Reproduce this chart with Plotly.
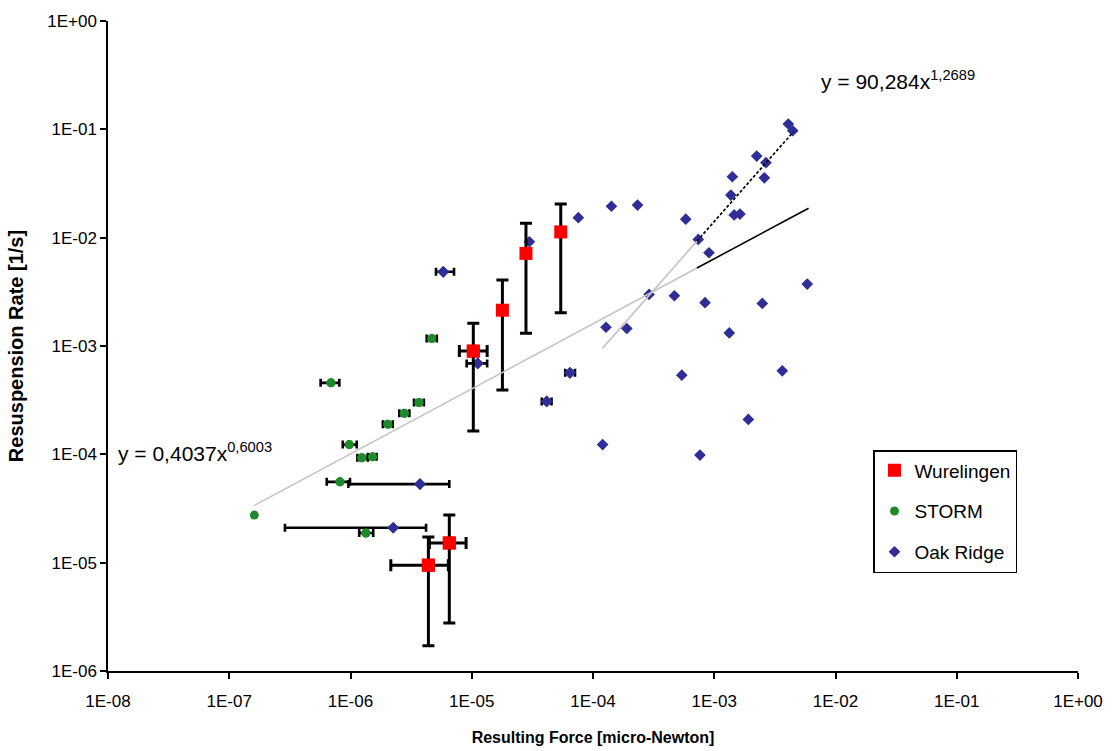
import numpy as np
import plotly.graph_objects as go

# ---------------- data ----------------
# Wurelingen (red squares) – force [micro-N], rate [1/s], with y-error ranges
wur_force = [1.03e-5, 1.79e-5, 2.80e-5, 5.42e-5, 4.39e-6, 6.53e-6]
wur_rate = [8.97e-4, 2.14e-3, 7.16e-3, 1.13e-2, 9.48e-6, 1.52e-5]
wur_rate_lo = [1.64e-4, 3.92e-4, 1.31e-3, 2.03e-3, 1.71e-6, 2.78e-6]
wur_rate_hi = [1.62e-3, 4.06e-3, 1.355e-2, 2.04e-2, 1.73e-5, 2.75e-5]
# Wurelingen points that also carry x-error ranges
wur_xe_force = [1.03e-5, 4.39e-6, 6.53e-6]
wur_xe_rate = [8.97e-4, 9.48e-6, 1.52e-5]
wur_xe_lo = [7.9e-6, 2.15e-6, 4.47e-6]
wur_xe_hi = [1.34e-5, 6.41e-6, 8.98e-6]

# STORM (green circles)
storm_force = [1.61e-7, 6.90e-7, 4.68e-6, 3.67e-6, 2.78e-6, 2.03e-6, 9.77e-7,
               1.24e-6, 1.52e-6, 8.18e-7, 1.34e-6]
storm_rate = [2.75e-5, 4.57e-4, 1.17e-3, 3.01e-4, 2.39e-4, 1.90e-4, 1.23e-4,
              9.31e-5, 9.48e-5, 5.57e-5, 1.88e-5]
storm_force_lo = [None, 5.67e-7, 4.25e-6, 3.34e-6, 2.53e-6, 1.85e-6, 8.63e-7,
                  1.14e-6, 1.39e-6, 6.37e-7, 1.18e-6]
storm_force_hi = [None, 8.09e-7, 5.15e-6, 4.03e-6, 3.06e-6, 2.23e-6, 1.125e-6,
                  1.39e-6, 1.64e-6, 9.9e-7, 1.54e-6]

# Oak Ridge (blue diamonds)
oak_force = [3.74e-6, 2.25e-6, 5.82e-6, 1.12e-5, 2.99e-5, 7.57e-5, 1.42e-4, 2.33e-4,
             4.15e-5, 6.46e-5, 1.20e-4, 1.28e-4, 1.90e-4, 2.90e-4, 4.69e-4, 5.82e-4,
             7.38e-4, 9.05e-4, 5.40e-4, 7.62e-4, 8.39e-4, 1.33e-3, 1.37e-3, 1.46e-3,
             1.63e-3, 1.41e-3, 2.24e-3, 2.67e-3, 2.59e-3, 4.08e-3, 4.44e-3, 2.49e-3,
             3.64e-3, 1.91e-3, 5.85e-3]
oak_rate = [5.31e-5, 2.10e-5, 4.84e-3, 6.91e-4, 9.17e-3, 1.53e-2, 1.95e-2, 2.00e-2,
            3.08e-4, 5.66e-4, 1.23e-4, 1.49e-3, 1.45e-3, 2.99e-3, 2.91e-3, 1.48e-2,
            9.64e-3, 7.26e-3, 5.38e-4, 9.84e-5, 2.51e-3, 1.32e-3, 2.47e-2, 1.62e-2,
            1.65e-2, 3.65e-2, 5.67e-2, 4.92e-2, 3.57e-2, 0.112, 0.097, 2.47e-3,
            5.90e-4, 2.10e-4, 3.73e-3]
oak_force_lo = [9.6e-7, 2.88e-7, 5.07e-6, 9.08e-6] + [None] * 4 + [3.78e-5, 5.9e-5] + [None] * 25
oak_force_hi = [6.53e-6, 4.20e-6, 7.14e-6, 1.34e-5] + [None] * 4 + [4.55e-5, 7.1e-5] + [None] * 25

# Power-law trend lines: y = a * x^b, drawn over [x_start, x_switch, x_end]
fit1_a, fit1_b = 0.4037, 0.6003
fit1_x = [1.6e-7, 7.2e-4, 6.0e-3]
fit2_a, fit2_b = 90.284, 1.2689
fit2_x = [1.2e-4, 7.2e-4, 4.5e-3]

x_tick_vals = [1e-8, 1e-7, 1e-6, 1e-5, 1e-4, 1e-3, 1e-2, 1e-1, 1e0]
x_tick_text = ["1E-08", "1E-07", "1E-06", "1E-05", "1E-04", "1E-03", "1E-02", "1E-01", "1E+00"]
y_tick_vals = [1e-6, 1e-5, 1e-4, 1e-3, 1e-2, 1e-1, 1e0]
y_tick_text = ["1E-06", "1E-05", "1E-04", "1E-03", "1E-02", "1E-01", "1E+00"]

# ---------------- styles ----------------
FONT = "Liberation Sans, Arial, sans-serif"
RED = "#ff0000"
GREEN = "#1f8a2c"
BLUE = "#2e2e96"
ERR_W = 2.6


def subset_with_err(xs, ys, lo, hi):
    sx, sy, plus, minus = [], [], [], []
    for x, y, l, h in zip(xs, ys, lo, hi):
        if l is None:
            continue
        sx.append(x)
        sy.append(y)
        plus.append(h - x)
        minus.append(x - l)
    return sx, sy, plus, minus


fig = go.Figure()

# Oak Ridge
ox, oy, op, om = subset_with_err(oak_force, oak_rate, oak_force_lo, oak_force_hi)
fig.add_trace(go.Scatter(x=ox, y=oy, mode="markers", showlegend=False, legendgroup="o",
                         marker=dict(symbol="diamond", size=9, color=BLUE),
                         error_x=dict(type="data", symmetric=False, array=op, arrayminus=om,
                                      color="black", thickness=ERR_W, width=4)))
fig.add_trace(go.Scatter(x=oak_force, y=oak_rate, mode="markers", name="Oak Ridge",
                         legendgroup="o", legendrank=3,
                         marker=dict(symbol="diamond", size=9, color=BLUE)))

# STORM
sx, sy, sp, sm = subset_with_err(storm_force, storm_rate, storm_force_lo, storm_force_hi)
fig.add_trace(go.Scatter(x=sx, y=sy, mode="markers", showlegend=False, legendgroup="s",
                         marker=dict(symbol="circle", size=9, color=GREEN),
                         error_x=dict(type="data", symmetric=False, array=sp, arrayminus=sm,
                                      color="black", thickness=ERR_W, width=4)))
fig.add_trace(go.Scatter(x=storm_force, y=storm_rate, mode="markers", name="STORM",
                         legendgroup="s", legendrank=2,
                         marker=dict(symbol="circle", size=9, color=GREEN)))

# Wurelingen
wxp = [h - x for x, h in zip(wur_xe_force, wur_xe_hi)]
wxm = [x - l for x, l in zip(wur_xe_force, wur_xe_lo)]
fig.add_trace(go.Scatter(x=wur_xe_force, y=wur_xe_rate, mode="markers", showlegend=False,
                         legendgroup="w",
                         marker=dict(symbol="square", size=13, color=RED),
                         error_x=dict(type="data", symmetric=False, array=wxp, arrayminus=wxm,
                                      color="black", thickness=3, width=6)))
wyp = [h - y for y, h in zip(wur_rate, wur_rate_hi)]
wym = [y - l for y, l in zip(wur_rate, wur_rate_lo)]
fig.add_trace(go.Scatter(x=wur_force, y=wur_rate, mode="markers", name="Wurelingen",
                         legendgroup="w", legendrank=1,
                         marker=dict(symbol="square", size=13, color=RED),
                         error_y=dict(type="data", symmetric=False, array=wyp, arrayminus=wym,
                                      color="black", thickness=3, width=6)))


def power(a, b, xs):
    xs = np.array(xs, dtype=float)
    return a * xs ** b


# trend lines (grey part, then black part)
f1 = power(fit1_a, fit1_b, fit1_x)
fig.add_trace(go.Scatter(x=fit1_x[:2], y=f1[:2], mode="lines", showlegend=False,
                         line=dict(color="#c4c4c4", width=1.6), hoverinfo="skip"))
fig.add_trace(go.Scatter(x=fit1_x[1:], y=f1[1:], mode="lines", showlegend=False,
                         line=dict(color="black", width=1.6), hoverinfo="skip"))
f2 = power(fit2_a, fit2_b, fit2_x)
fig.add_trace(go.Scatter(x=fit2_x[:2], y=f2[:2], mode="lines", showlegend=False,
                         line=dict(color="#c4c4c4", width=1.6), hoverinfo="skip"))
fig.add_trace(go.Scatter(x=fit2_x[1:], y=f2[1:], mode="lines", showlegend=False,
                         line=dict(color="black", width=1.6, dash="3px,2px"), hoverinfo="skip"))

axis_common = dict(showgrid=False, zeroline=False, showline=True, linecolor="black",
                   linewidth=1.5, ticks="outside", ticklen=6, tickwidth=1.5,
                   tickcolor="black", automargin=False,
                   tickfont=dict(family=FONT, size=17, color="black"))

fig.update_layout(
    width=1112, height=751,
    paper_bgcolor="white", plot_bgcolor="white",
    margin=dict(l=108, r=34, t=21, b=80),
    font=dict(family=FONT, color="black"),
    xaxis=dict(type="log", range=[-8, 0], tickmode="array", tickvals=x_tick_vals,
               ticktext=x_tick_text, ticklabelstandoff=8,
               title=dict(text="<b>Resulting Force [micro-Newton]</b>",
                          font=dict(family=FONT, size=16), standoff=22),
               **axis_common),
    yaxis=dict(type="log", range=[-6, 0], tickmode="array", tickvals=y_tick_vals,
               ticktext=y_tick_text,
               title=dict(text="<b>Resuspension Rate [1/s]</b>",
                          font=dict(family=FONT, size=20), standoff=18),
               **axis_common),
    xaxis2=dict(type="log", range=[-8, 0], overlaying="x", anchor="y", side="bottom",
                tickmode="array", tickvals=x_tick_vals, ticks="inside", ticklen=6,
                tickwidth=1.5, tickcolor="black", showticklabels=False,
                showgrid=False, zeroline=False, showline=False),
    yaxis2=dict(type="log", range=[-6, 0], overlaying="y", anchor="x", side="left",
                tickmode="array", tickvals=y_tick_vals, ticks="inside", ticklen=6,
                tickwidth=1.5, tickcolor="black", showticklabels=False,
                showgrid=False, zeroline=False, showline=False),
    legend=dict(x=(873 - 108) / 970, y=(671 - 450) / 650, xanchor="left", yanchor="top",
                bgcolor="white", bordercolor="black", borderwidth=1.5,
                font=dict(family=FONT, size=19, color="black"),
                traceorder="grouped", tracegroupgap=13, itemwidth=30),
    showlegend=True,
    annotations=[
        dict(text="y = 0,4037x<sup>0,6003</sup>", xref="paper", yref="paper",
             x=(116 - 108) / 970, y=(671 - 452) / 650, xanchor="left", yanchor="middle",
             showarrow=False, font=dict(family=FONT, size=21, color="black")),
        dict(text="y = 90,284x<sup>1,2689</sup>", xref="paper", yref="paper",
             x=(819 - 108) / 970, y=(671 - 80) / 650, xanchor="left", yanchor="middle",
             showarrow=False, font=dict(family=FONT, size=21, color="black")),
    ],
)

fig.write_html("out.html", config={"displayModeBar": False},
               post_script="document.body.style.margin='0';document.body.style.overflow='hidden';")
